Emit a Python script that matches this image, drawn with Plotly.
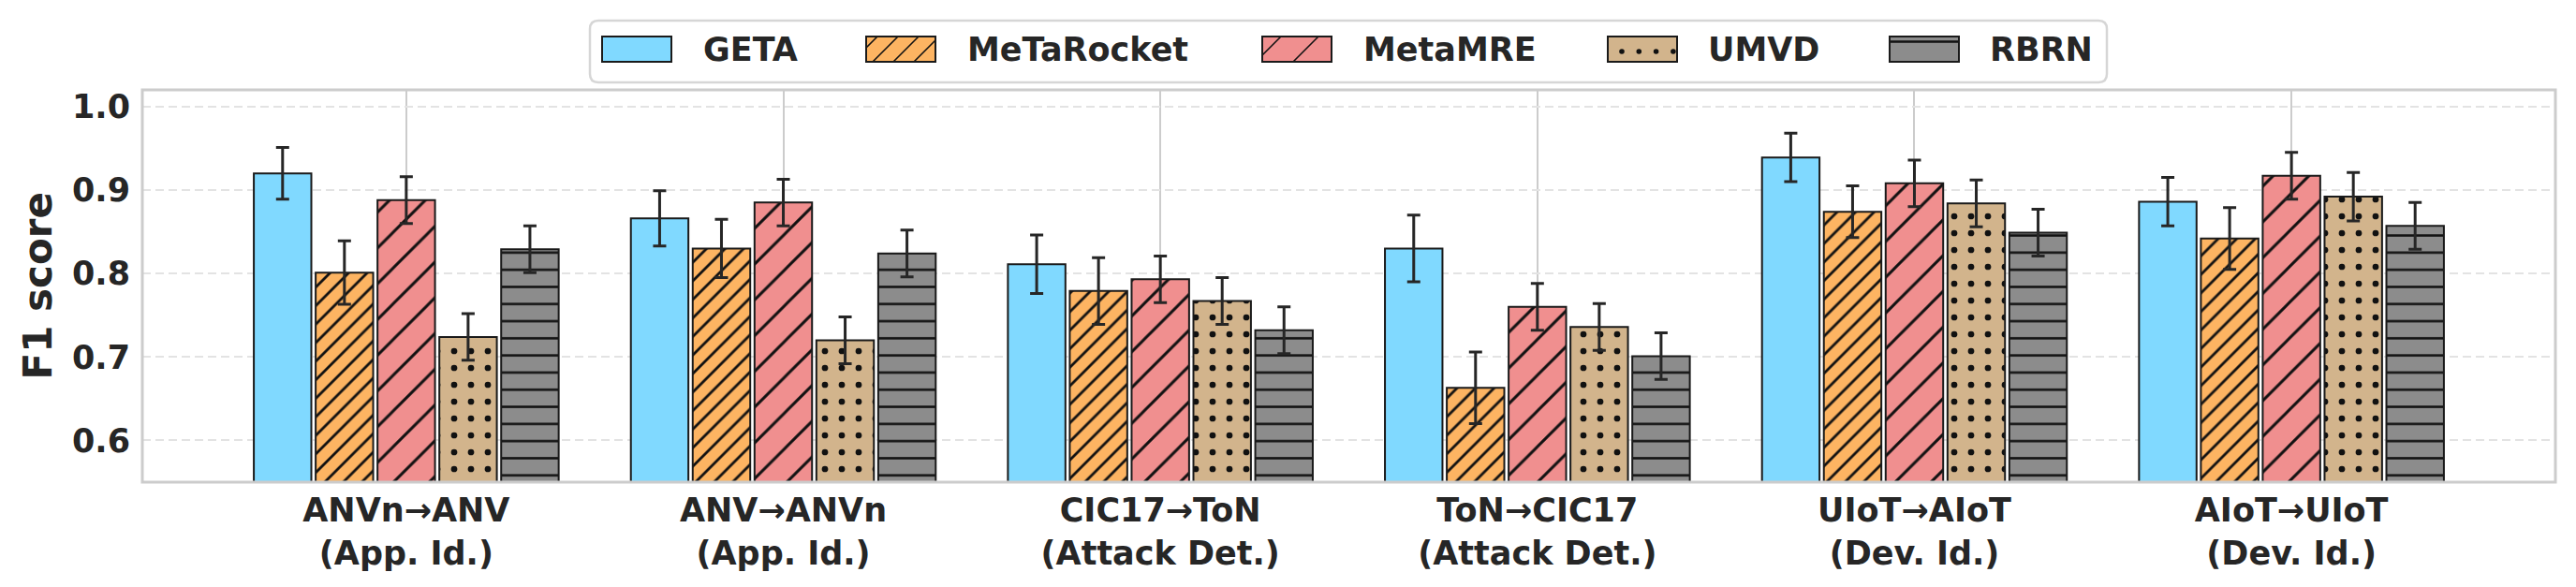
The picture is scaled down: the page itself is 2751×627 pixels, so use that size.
import plotly.graph_objects as go

# ---------------- data ----------------
categories = [
    "ANVn→ANV<br>(App. Id.)",
    "ANV→ANVn<br>(App. Id.)",
    "CIC17→ToN<br>(Attack Det.)",
    "ToN→CIC17<br>(Attack Det.)",
    "UIoT→AIoT<br>(Dev. Id.)",
    "AIoT→UIoT<br>(Dev. Id.)",
]
methods = ["GETA", "MeTaRocket", "MetaMRE", "UMVD", "RBRN"]

geta = [0.920, 0.866, 0.811, 0.830, 0.939, 0.886]
geta_err = [0.031, 0.033, 0.035, 0.040, 0.029, 0.029]
metarocket = [0.801, 0.830, 0.779, 0.663, 0.874, 0.842]
metarocket_err = [0.038, 0.035, 0.040, 0.043, 0.031, 0.037]
metamre = [0.888, 0.885, 0.793, 0.760, 0.908, 0.917]
metamre_err = [0.028, 0.028, 0.028, 0.028, 0.028, 0.028]
umvd = [0.724, 0.720, 0.767, 0.736, 0.884, 0.892]
umvd_err = [0.028, 0.028, 0.028, 0.028, 0.028, 0.029]
rbrn = [0.829, 0.824, 0.732, 0.701, 0.849, 0.857]
rbrn_err = [0.028, 0.028, 0.028, 0.028, 0.028, 0.028]

y_ticks = [0.6, 0.7, 0.8, 0.9, 1.0]
y_tick_text = ["0.6", "0.7", "0.8", "0.9", "1.0"]

values = [geta, metarocket, metamre, umvd, rbrn]
errors = [geta_err, metarocket_err, metamre_err, umvd_err, rbrn_err]

# ---------------- styles ----------------
colors = ["#80D9FF", "#FDB462", "#F08F8F", "#D2B48C", "#8C8C8C"]
patterns = [
    dict(shape=""),
    dict(shape="/", size=14, solidity=0.2, fgcolor="#111111", fgopacity=1),
    dict(shape="/", size=27, solidity=0.11, fgcolor="#111111", fgopacity=1),
    dict(shape=".", size=18, solidity=0.11, fgcolor="#111111", fgopacity=1),
    dict(shape="-", size=18.3, solidity=0.14, fgcolor="#111111", fgopacity=1),
]
FONT = "DejaVu Sans"
TXT = "#262626"

W, H = 2751, 627
X0, X1, Y0, Y1 = 152, 2729, 96, 515  # plot area in px


def fx(px):
    return (px - X0) / (X1 - X0)


def fy(py):
    return (Y1 - py) / (Y1 - Y0)


fig = go.Figure()
for name, vals, errs, col, pat in zip(methods, values, errors, colors, patterns):
    fig.add_trace(go.Bar(
        name=name, x=categories, y=vals,
        marker=dict(color=col, line=dict(color="#1a1a1a", width=2), pattern=pat),
        error_y=dict(type="data", array=errs, visible=True, color="#262626",
                     thickness=3, width=7),
        showlegend=False,
    ))

shapes = []
annotations = []

# plot frame
shapes.append(dict(type="rect", xref="paper", yref="paper", x0=0, x1=1, y0=0, y1=1,
                   line=dict(color="#cccccc", width=3), layer="above"))

# ---------------- manual legend ----------------
bx0, bx1, by0, by1, r = 630, 2250, 22, 88, 9
path = (f"M{fx(bx0 + r)},{fy(by0)} L{fx(bx1 - r)},{fy(by0)} "
        f"Q{fx(bx1)},{fy(by0)} {fx(bx1)},{fy(by0 + r)} "
        f"L{fx(bx1)},{fy(by1 - r)} Q{fx(bx1)},{fy(by1)} {fx(bx1 - r)},{fy(by1)} "
        f"L{fx(bx0 + r)},{fy(by1)} Q{fx(bx0)},{fy(by1)} {fx(bx0)},{fy(by1 - r)} "
        f"L{fx(bx0)},{fy(by0 + r)} Q{fx(bx0)},{fy(by0)} {fx(bx0 + r)},{fy(by0)} Z")
shapes.append(dict(type="path", xref="paper", yref="paper", path=path,
                   line=dict(color="#d6d6d6", width=2.5), fillcolor="white", layer="above"))

sw_left = [643, 925, 1348, 1717, 2018]
txt_left = [749, 1031, 1454, 1822, 2123]
sw_w, sy0, sy1 = 74, 39, 66


def hatch_path(x0, y0, x1, y1, spacing, phase):
    segs = []
    c = x0 + y0 + phase
    while c < x1 + y1:
        xa = max(x0, c - y1)
        xb = min(x1, c - y0)
        if xb > xa:
            segs.append(f"M{fx(xa)},{fy(c - xa)} L{fx(xb)},{fy(c - xb)}")
        c += spacing
    return " ".join(segs)


for i, name in enumerate(methods):
    sx0 = sw_left[i]
    sx1 = sx0 + sw_w
    shapes.append(dict(type="rect", xref="paper", yref="paper",
                       x0=fx(sx0), x1=fx(sx1), y0=fy(sy1), y1=fy(sy0),
                       fillcolor=colors[i], line=dict(width=0), layer="above"))
    if i == 1:
        shapes.append(dict(type="path", xref="paper", yref="paper",
                           path=hatch_path(sx0, sy0, sx1, sy1, 22, 12),
                           line=dict(color="#111111", width=1.6), layer="above"))
    elif i == 2:
        shapes.append(dict(type="path", xref="paper", yref="paper",
                           path=hatch_path(sx0, sy0, sx1, sy1, 40, 20),
                           line=dict(color="#111111", width=1.6), layer="above"))
    elif i == 3:
        for k in range(4):
            cx = sx0 + 15 + k * 18.3
            shapes.append(dict(type="circle", xref="paper", yref="paper",
                               x0=fx(cx - 2.8), x1=fx(cx + 2.8), y0=fy(55 + 2.8), y1=fy(55 - 2.8),
                               fillcolor="#111111", line=dict(width=0), layer="above"))
    elif i == 4:
        shapes.append(dict(type="line", xref="paper", yref="paper",
                           x0=fx(sx0), x1=fx(sx1), y0=fy(44.5), y1=fy(44.5),
                           line=dict(color="#111111", width=2.5), layer="above"))
    shapes.append(dict(type="rect", xref="paper", yref="paper",
                       x0=fx(sx0), x1=fx(sx1), y0=fy(sy1), y1=fy(sy0),
                       fillcolor="rgba(0,0,0,0)", line=dict(color="#1a1a1a", width=2),
                       layer="above"))
    annotations.append(dict(text=name, xref="paper", yref="paper",
                            x=fx(txt_left[i]), y=fy(52.5), xanchor="left", yanchor="middle",
                            showarrow=False,
                            font=dict(family=FONT, size=35, color=TXT, weight="bold")))

# y-axis title
annotations.append(dict(text="F1 score", xref="paper", yref="paper",
                        x=fx(40), y=0.5, xanchor="center", yanchor="middle",
                        textangle=-90, showarrow=False,
                        font=dict(family=FONT, size=42, color=TXT, weight="bold")))

fig.update_layout(
    width=W, height=H,
    margin=dict(l=X0, r=W - X1, t=Y0, b=H - Y1, pad=0),
    paper_bgcolor="white", plot_bgcolor="white",
    barmode="group", bargap=0.18, bargroupgap=0.07,
    shapes=shapes, annotations=annotations,
    showlegend=False,
    xaxis=dict(
        type="category", range=[-0.7, 5.7],
        showgrid=True, gridcolor="#cccccc", gridwidth=1.5,
        showline=False, zeroline=False, ticks="",
        tickfont=dict(family=FONT, size=35, color=TXT, weight="bold"),
        ticklabelstandoff=6,
    ),
    yaxis=dict(
        range=[0.55, 1.02], tickvals=y_ticks, ticktext=y_tick_text,
        showgrid=True, gridcolor="#e3e3e3", gridwidth=2, griddash="9px,5px",
        showline=False, zeroline=False, ticks="",
        tickfont=dict(family=FONT, size=35, color=TXT, weight="bold"),
        ticklabelstandoff=12,
    ),
)

fig.write_html("out.html")
